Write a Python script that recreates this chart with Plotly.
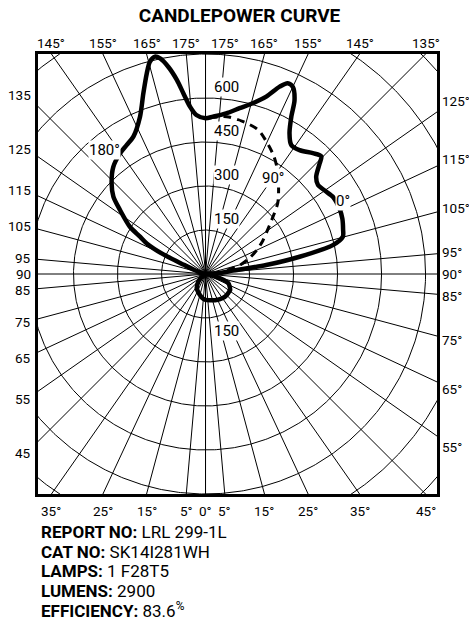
import numpy as np
import plotly.graph_objects as go

# ---------------- data (vertical angle from nadir in degrees, candela) ----------------
# 0 deg plane (solid, drawn on the right)
ang_0 = [0, 10, 20, 30, 40, 50, 57, 63, 68, 73.5, 77, 82, 90, 94, 97, 98.4, 100.4, 102.8,
         105.2, 108, 112, 116, 121, 125, 128.4, 131.3, 134, 135.5, 138.4, 142.8, 146.4,
         149.2, 151.4, 152.9, 155, 156.7, 158.4, 161.1, 164.5, 168.4, 172.7, 177.3, 180]
cd_0 = [88, 91, 95, 99, 102, 101, 100, 92, 84, 52, 20, 6, 4, 40, 94, 209, 326, 445,
        485, 493, 503, 508, 508, 496, 489, 502, 540, 563, 551, 530, 528,
        559, 611, 666, 704, 708, 687, 639, 604, 577, 552, 537, 531]

# 180 deg plane (solid, drawn on the left)
ang_180 = [0, 6, 15, 31.6, 43, 52, 60, 90, 105, 110, 113, 115, 117.5, 119.7, 122, 126.8,
           130, 134, 139.3, 144.7, 148.5, 152.3, 157.4, 161, 163.7, 165.3, 166.9, 168.1,
           169.8, 171.6, 173, 174.7, 176.7, 180]
cd_180 = [88, 84, 74, 57, 36, 18, 6, 4, 12, 40, 80, 160, 226, 257, 304, 364,
          410, 445, 482, 504, 515, 529, 581, 651, 713, 748, 761, 751,
          718, 669, 621, 573, 543, 531]

# 90 deg plane (dashed, drawn on the right)
ang_90 = [100, 104.6, 110, 115, 120, 124.6, 129.2, 134.6, 141.7, 146.4, 150, 154,
          159.9, 166.1, 172.3, 180]
cd_90 = [75, 122, 160, 193, 225, 254, 291, 346, 401, 439, 465, 489,
         523, 535, 541, 531]

# grid and labels
ring_values = [150, 300, 450, 600, 750, 900, 1050, 1200]
ring_labels_up = [150, 300, 450, 600]
ring_labels_down = [150]
radial_angles = [0, 5, 15, 25, 35, 45, 55, 65, 75, 85, 90, 95, 105, 115, 125, 135,
                 145, 155, 165, 175, 180]
top_left_labels = [145, 155, 165, 175]
top_right_labels = [175, 165, 155, 145, 135]
left_labels = [135, 125, 115, 105, 95, 90, 85, 75, 65, 55, 45]
right_labels = [125, 115, 105, 95, 90, 85, 75, 65, 55]
bottom_left_labels = [35, 25, 15, 5]
bottom_right_labels = [0, 5, 15, 25, 35, 45]
plane_labels = [("180°", -1, 141, 545), ("90°", 1, 145, 400), ("0°", 1, 118, 530)]
info_lines = [("REPORT NO:", "LRL 299-1L"), ("CAT NO:", "SK14I281WH"),
              ("LAMPS:", "1 F28T5"), ("LUMENS:", "2900"), ("EFFICIENCY:", "83.6<sup>%</sup>")]

# ---------------- layout constants ----------------
W, H = 469, 624
BOX_L, BOX_R, BOX_T, BOX_B = 38, 437, 54, 494   # pixels
XMIN, XMAX, YMIN, YMAX = -571, 789, -750, 750    # candela units
LABEL_SPREAD = 1.07
FONT = "Roboto, Liberation Sans, Arial, sans-serif"


def px_x(p):
    return (p - BOX_L) / (BOX_R - BOX_L)


def px_y(p):
    return (BOX_B - p) / (BOX_B - BOX_T)


def dx_paper(v):
    return (v - XMIN) / (XMAX - XMIN)


def dy_paper(v):
    return (v - YMIN) / (YMAX - YMIN)


def to_xy(angles, values, side):
    a = np.radians(np.asarray(angles, float))
    r = np.asarray(values, float)
    return side * r * np.sin(a), -r * np.cos(a)


fig = go.Figure()

# rings
t = np.linspace(0, 2 * np.pi, 721)
gx, gy = [], []
for v in ring_values:
    gx += list(v * np.cos(t)) + [None]
    gy += list(v * np.sin(t)) + [None]
# radial lines
R = 1400
for a in radial_angles:
    for side in (1, -1):
        gx += [0, float(side * R * np.sin(np.radians(a)))] + [None]
        gy += [0, float(-R * np.cos(np.radians(a)))] + [None]
fig.add_trace(go.Scatter(x=gx, y=gy, mode="lines", line=dict(color="black", width=1),
                         hoverinfo="skip", showlegend=False))

# dashed 90 deg plane
x90, y90 = to_xy(ang_90, cd_90, 1)
fig.add_trace(go.Scatter(x=x90, y=y90, mode="lines",
                         line=dict(color="black", width=3, dash="8px,6px", shape="spline", smoothing=0.8),
                         showlegend=False))

# solid 0/180 plane: right side from top to nadir, then left side nadir to top
x0, y0 = to_xy(ang_0[::-1], cd_0[::-1], 1)
x180, y180 = to_xy(ang_180, cd_180, -1)
xs = np.concatenate([x0, x180[1:]])
ys = np.concatenate([y0, y180[1:]])
fig.add_trace(go.Scatter(x=xs, y=ys, mode="lines",
                         line=dict(color="black", width=4.5, shape="spline", smoothing=0.8),
                         showlegend=False))

ann = []
tick_font = dict(family=FONT, size=13.5, color="black")

# top labels
for a in top_left_labels:
    xv = -YMAX * np.tan(np.radians(180 - a))
    ann.append(dict(x=dx_paper(xv), y=1, xref="paper", yref="paper", text=f"{a}°",
                    showarrow=False, font=tick_font, xanchor="center", yanchor="middle", yshift=11))
for a in top_right_labels:
    xv = YMAX * np.tan(np.radians(180 - a))
    ann.append(dict(x=dx_paper(xv), y=1, xref="paper", yref="paper", text=f"{a}°",
                    showarrow=False, font=tick_font, xanchor="center", yanchor="middle", yshift=11))
# bottom labels
for a in bottom_left_labels:
    xv = -(-YMIN) * np.tan(np.radians(a))
    ann.append(dict(x=dx_paper(xv), y=0, xref="paper", yref="paper", text=f"{a}°",
                    showarrow=False, font=tick_font, xanchor="center", yanchor="middle", yshift=-17))
for a in bottom_right_labels:
    xv = (-YMIN) * np.tan(np.radians(a))
    ann.append(dict(x=dx_paper(xv), y=0, xref="paper", yref="paper", text=f"{a}°",
                    showarrow=False, font=tick_font, xanchor="center", yanchor="middle", yshift=-17))
# side labels
for a in left_labels:
    yv = (-XMIN) * np.tan(np.radians(a - 90)) * LABEL_SPREAD
    ann.append(dict(x=0, y=dy_paper(yv), xref="paper", yref="paper", text=f"{a}",
                    showarrow=False, font=tick_font, xanchor="right", yanchor="middle", xshift=-5))
for a in right_labels:
    yv = XMAX * np.tan(np.radians(a - 90)) * LABEL_SPREAD
    ann.append(dict(x=1, y=dy_paper(yv), xref="paper", yref="paper", text=f"{a}°",
                    showarrow=False, font=tick_font, xanchor="left", yanchor="middle", xshift=4,
                    borderpad=0))

# ring value labels
ring_font = dict(family=FONT, size=15, color="black")
for v in ring_labels_up:
    ann.append(dict(x=70, y=v, xref="x", yref="y", text=str(v), showarrow=False, font=ring_font,
                    xanchor="center", yanchor="bottom", bgcolor="white", borderpad=0, yshift=1))
for v in ring_labels_down:
    ann.append(dict(x=70, y=-v, xref="x", yref="y", text=str(v), showarrow=False, font=ring_font,
                    xanchor="center", yanchor="top", bgcolor="white", borderpad=0, yshift=-3))

# plane labels
for txt, side, a, r in plane_labels:
    xv, yv = to_xy([a], [r], side)
    ann.append(dict(x=float(xv[0]), y=float(yv[0]), xref="x", yref="y", text=txt, showarrow=False,
                    font=ring_font, bgcolor="white", borderpad=0))

# info block
info_font = dict(family=FONT, size=17, color="black")
for i, (k, v) in enumerate(info_lines):
    ann.append(dict(x=px_x(40), y=px_y(532 + 19.5 * i), xref="paper", yref="paper",
                    text=f"<b>{k}</b> {v}", showarrow=False, font=info_font,
                    xanchor="left", yanchor="middle", borderpad=0))

fig.update_layout(
    width=W, height=H,
    margin=dict(l=BOX_L, r=W - BOX_R, t=BOX_T, b=H - BOX_B),
    paper_bgcolor="white", plot_bgcolor="white",
    title=dict(text="<b>CANDLEPOWER CURVE</b>", x=239.5 / W, xanchor="center",
               y=1 - 15 / H, yref="container", yanchor="middle",
               font=dict(family=FONT, size=19, color="black")),
    xaxis=dict(range=[XMIN, XMAX], showgrid=False, zeroline=False, showticklabels=False,
               ticks="", showline=True, mirror=True, linecolor="black", linewidth=3, fixedrange=True),
    yaxis=dict(range=[YMIN, YMAX], showgrid=False, zeroline=False, showticklabels=False,
               ticks="", showline=True, mirror=True, linecolor="black", linewidth=3, fixedrange=True),
    annotations=ann,
    showlegend=False,
)

fig.write_html("out.html", config={"displayModeBar": False},
               post_script="document.body.style.margin='0px';document.body.style.padding='0px';")
